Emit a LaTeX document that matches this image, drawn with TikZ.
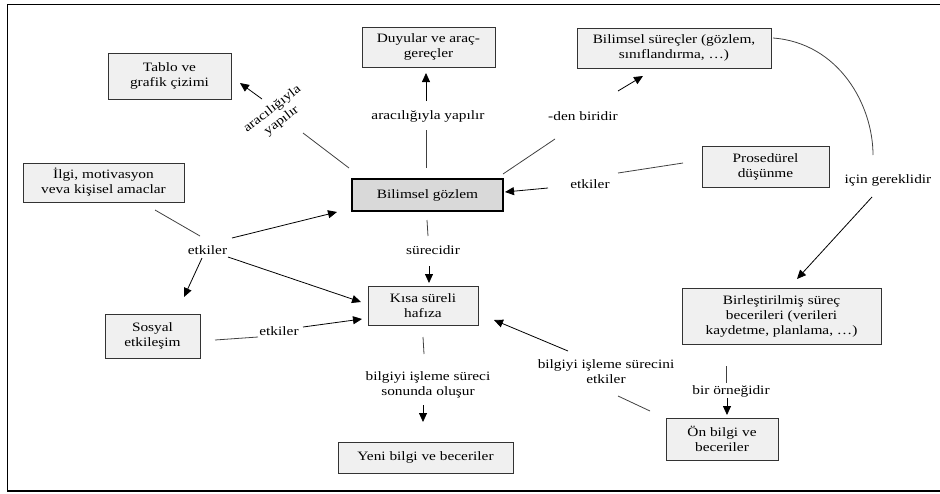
\documentclass[tikz,border=0pt]{standalone}
\usepackage{fontspec}
\setmainfont[FakeStretch=1.2]{Liberation Serif}
\usetikzlibrary{arrows.meta,calc}
\tikzset{
  txt/.style={font=\fontsize{12.8}{15}\selectfont, align=center},
  box/.style={txt, draw=black!80, line width=0.9pt, fill=gray!12, inner sep=0pt, outer sep=0pt},
  mainbox/.style={box, draw=black, line width=2pt, fill=gray!30},
  lbl/.style={txt, inner sep=0pt},
  ln/.style={draw=black!75, line width=0.8pt},
  arr/.style={ln, draw=black, -{Triangle[length=9pt,width=8pt]}},
  frame/.style={draw=black, line width=1.8pt}
}
\begin{document}
\begin{tikzpicture}[x=1pt,y=-1pt]
\useasboundingbox (0,0) rectangle (940,493);
\draw[frame] (940,4.5) -- (7.5,4.5) -- (7.5,491) -- (940,491);

% boxes
\node[box, minimum width=123pt, minimum height=46pt] (tablo) at (169.5,76) {Tablo ve\\grafik çizimi};
\node[box, minimum width=133pt, minimum height=40pt] (duyular) at (428.5,47) {Duyular ve araç-\\gereçler};
\node[box, minimum width=194pt, minimum height=40pt] (surec) at (674,48) {Bilimsel süreçler (gözlem,\\sınıflandırma, …)};
\node[box, minimum width=127pt, minimum height=41pt] (prosed) at (765.5,166.5) {Prosedürel\\düşünme};
\node[box, minimum width=161pt, minimum height=39pt] (ilgi) at (103.5,182.5) {İlgi, motivasyon\\veva kişisel amaclar};
\node[mainbox, minimum width=151pt, minimum height=32pt] (gozlem) at (427.5,195) {Bilimsel gözlem};
\node[box, minimum width=110pt, minimum height=39pt] (kisa) at (423,305.5) {Kısa süreli\\hafıza};
\node[box, minimum width=95pt, minimum height=44pt] (sosyal) at (152.5,336) {Sosyal\\etkileşim};
\node[box, minimum width=175pt, minimum height=31pt] (yeni) at (425.5,457.5) {Yeni bilgi ve beceriler};
\node[box, minimum width=199pt, minimum height=56pt] (birles) at (781.5,316) {Birleştirilmiş süreç\\becerileri (verileri\\kaydetme, planlama, …)};
\node[box, minimum width=112pt, minimum height=42pt] (onbilgi) at (722,439) {Ön bilgi ve\\beceriler};

% labels
\node[lbl, rotate=38] (Lrot) at (277,115) {aracılığıyla\\yapılır};
\node[lbl] (Lduy) at (428,116) {aracılığıyla yapılır};
\node[lbl] (Lden) at (583,116) {-den biridir};
\node[lbl] (Lpro) at (590,184) {etkiler};
\node[lbl] (Lgerek) at (888,180) {için gereklidir};
\node[lbl] (Lilgi) at (207.5,250) {etkiler};
\node[lbl] (Lsur) at (433,250) {sürecidir};
\node[lbl] (Lsos) at (279,331) {etkiler};
\node[lbl] (Lkisa) at (428,385) {bilgiyi işleme süreci\\sonunda oluşur};
\node[lbl] (Lon) at (606,372) {bilgiyi işleme sürecini\\etkiler};
\node[lbl] (Lorn) at (731,391) {bir örneğidir};

% connectors
\draw[ln] ($(gozlem)+(-78.5,-27)$) -- ($(Lrot)+(26,18)$);
\draw[arr] ($(Lrot)+(-15,-16)$) -- ($(tablo)+(70.5,7)$);

\draw[ln] ($(gozlem)+(-1.5,-27)$) -- ($(Lduy)+(-2,14)$);
\draw[arr] ($(Lduy)+(-2,-15)$) -- ($(duyular)+(-2.5,26)$);

\draw[ln] ($(gozlem)+(75.5,-21)$) -- ($(Lden)+(-28,23)$);
\draw[arr] ($(Lden)+(35,-25)$) -- ($(surec)+(-31,28)$);

\draw[ln] ($(prosed)+(-82.5,-3.5)$) -- ($(Lpro)+(28,-11)$);
\draw[arr] ($(Lpro)+(-42,4)$) -- ($(gozlem)+(77.5,-3)$);

\draw[ln] ($(surec)+(99,-10)$) .. controls ($(surec)+(165,-5)$) and ($(Lgerek)+(-15,-75)$) .. ($(Lgerek)+(-15,-25)$);
\draw[arr] ($(Lgerek)+(-16,17)$) -- ($(birles)+(15.5,-37)$);

\draw[ln] ($(ilgi)+(51.5,27.5)$) -- ($(Lilgi)+(-7.5,-14)$);
\draw[arr] ($(Lilgi)+(24.5,-12)$) -- ($(gozlem)+(-90.5,17)$);
\draw[arr] ($(Lilgi)+(-5.5,8)$) -- ($(sosyal)+(31.5,-39)$);
\draw[arr] ($(Lilgi)+(20.5,7)$) -- ($(kisa)+(-62,-3.5)$);

\draw[ln] ($(gozlem)+(-0.5,25)$) -- ($(Lsur)+(-5,-14)$);
\draw[arr] ($(Lsur)+(-4,16)$) -- ($(kisa)+(6,-22.5)$);

\draw[ln] ($(sosyal)+(62.5,4)$) -- ($(Lsos)+(-21,6)$);
\draw[arr] ($(Lsos)+(24,-4)$) -- ($(kisa)+(-61,13.5)$);

\draw[ln] ($(kisa)+(0,31.5)$) -- ($(Lkisa)+(-4,-31)$);
\draw[arr] ($(Lkisa)+(-5,20)$) -- ($(yeni)+(-2.5,-35.5)$);

\draw[ln] ($(onbilgi)+(-72,-28)$) -- ($(Lon)+(12,24)$);
\draw[arr] ($(Lon)+(-38,-21)$) -- ($(kisa)+(71,14.5)$);

\draw[ln] ($(birles)+(-55.5,50)$) -- ($(Lorn)+(-5,-8)$);
\draw[arr] ($(Lorn)+(-4,7)$) -- ($(onbilgi)+(5,-24)$);
\end{tikzpicture}
\end{document}
